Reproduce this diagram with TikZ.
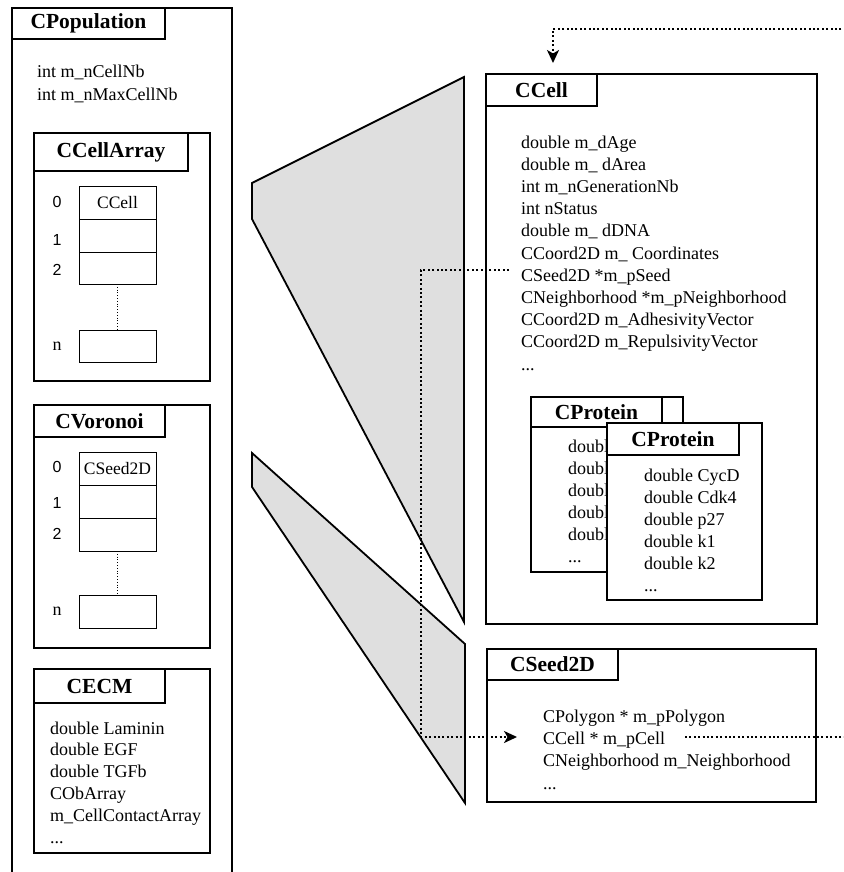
\documentclass[tikz,border=0pt]{standalone}
\usepackage{fontspec}
\setmainfont{Liberation Serif}
\newfontfamily\idxfont{Liberation Sans}
\usetikzlibrary{arrows.meta}

\begin{document}
\begin{tikzpicture}[x=1pt, y=-1pt,
  classbox/.style={draw, line width=2pt, fill=white},
  titlebox/.style={draw, line width=2pt, fill=white, anchor=north west,
    inner sep=0pt, outer sep=0pt, font=\fontsize{21.5}{24}\selectfont\bfseries},
  members/.style={anchor=base west, align=left, inner sep=0pt,
    font=\fontsize{18}{22.2}\selectfont},
  slot/.style={draw, line width=1pt, minimum width=77, minimum height=33,
    inner sep=0pt, outer sep=0pt, font=\fontsize{17.5}{20}\selectfont},
  idx/.style={inner sep=0pt, font=\idxfont\fontsize{16}{18}\selectfont},
  zoomfan/.style={fill=gray!25, draw, line width=1.8pt},
  link/.style={line width=2pt, dash pattern=on 2pt off 2.4pt},
  linkhead/.style={-{Stealth[length=13pt, width=12pt, inset=3.5pt]}}]
  \useasboundingbox (0,0) rectangle (843,872);
  \clip (0,0) rectangle (843,872);

  % zoom funnels
  \coordinate (F1a) at (252,183);
  \coordinate (F1b) at (464,77);
  \coordinate (F1c) at (464,622);
  \coordinate (F1d) at (252,219);
  \coordinate (F2a) at (252,453);
  \coordinate (F2b) at (465,644);
  \coordinate (F2c) at (465,803);
  \coordinate (F2d) at (252,487);
  \draw[zoomfan] (F1a)--(F1b)--(F1c)--(F1d)--cycle;
  \draw[zoomfan] (F2a)--(F2b)--(F2c)--(F2d)--cycle;

  % member lists: placed at the baseline of their last line
  % CPopulation
  \draw[classbox] (12,8) rectangle (232,900);
  \node[titlebox, minimum width=153, minimum height=31] (popT) at (12,8) {CPopulation};
  \node[members, font=\fontsize{18}{23}\selectfont] (popM) at (37,101)
    {int m\_nCellNb\\int m\_nMaxCellNb};

  % CCellArray
  \draw[classbox] (34,133) rectangle (210,381);
  \node[titlebox, minimum width=154, minimum height=38] (arrT) at (34,133) {CCellArray};
  \node[slot] (ca0) at (117.5,202.5) {CCell};
  \node[slot, anchor=north] (ca1) at (ca0.south) {};
  \node[slot, anchor=north, minimum height=32] (ca2) at (ca1.south) {};
  \node[slot, minimum height=32] (caN) at (117.5,346) {};
  \draw[dotted, line width=0.8pt] (ca2.south) -- (caN.north);
  \node[idx] (ia0) at (57,202) {0};
  \node[idx] (ia1) at (57,240) {1};
  \node[idx] (ia2) at (57,270) {2};
  \node[members, anchor=center] (iaN) at (57,346) {n};

  % CVoronoi
  \draw[classbox] (34,405) rectangle (210,648);
  \node[titlebox, minimum width=131, minimum height=32] (vorT) at (34,405) {CVoronoi};
  \node[slot] (cv0) at (117.5,468.5) {CSeed2D};
  \node[slot, anchor=north] (cv1) at (cv0.south) {};
  \node[slot, anchor=north] (cv2) at (cv1.south) {};
  \node[slot] (cvN) at (117.5,611.5) {};
  \draw[dotted, line width=0.8pt] (cv2.south) -- (cvN.north);
  \node[idx] (iv0) at (57,467) {0};
  \node[idx] (iv1) at (57,503) {1};
  \node[idx] (iv2) at (57,534) {2};
  \node[members, anchor=center] (ivN) at (57,611) {n};

  % CECM
  \draw[classbox] (34,669) rectangle (210,853);
  \node[titlebox, minimum width=131, minimum height=34] (ecmT) at (34,669) {CECM};
  \node[members, font=\fontsize{18}{21.8}\selectfont] (ecmM) at (50,843)
    {double Laminin\\double EGF\\double TGFb\\CObArray\\m\_CellContactArray\\...};

  % CCell
  \draw[classbox] (486,74) rectangle (817,624);
  \node[titlebox, minimum width=111, minimum height=32] (cellT) at (486,74) {CCell};
  \node[members] (cellM) at (521,370)
    {double m\_dAge\\double m\_ dArea\\int m\_nGenerationNb\\int nStatus\\
     double m\_ dDNA\\CCoord2D m\_ Coordinates\\CSeed2D *m\_pSeed\\
     CNeighborhood *m\_pNeighborhood\\CCoord2D m\_AdhesivityVector\\
     CCoord2D m\_RepulsivityVector\\...};

  % CProtein (back, front)
  \draw[classbox] (531,397) rectangle (683,572);
  \node[titlebox, minimum width=131, minimum height=30] (protT1) at (531,397) {CProtein};
  \node[members, font=\fontsize{18}{22}\selectfont] (protM1) at (568,562)
    {doubl\\doubl\\doubl\\doubl\\doubl\\...};
  \draw[classbox] (607,423) rectangle (762,600);
  \node[titlebox, minimum width=132, minimum height=32] (protT2) at (607,423) {CProtein};
  \node[members, font=\fontsize{18}{22}\selectfont] (protM2) at (644,591)
    {double CycD\\double Cdk4\\double p27\\double k1\\double k2\\...};

  % CSeed2D
  \draw[classbox] (487,649) rectangle (816,802);
  \node[titlebox, minimum width=131, minimum height=31] (seedT) at (487,649) {CSeed2D};
  \node[members] (seedM) at (543,789)
    {CPolygon * m\_pPolygon\\CCell * m\_pCell\\CNeighborhood m\_Neighborhood\\...};

  % pointers
  \coordinate (seedptr) at (509,270);
  \coordinate (seedturn) at (421,737);
  \coordinate (cellptr) at (517,737);
  \coordinate (pcellend) at (685,737);
  \coordinate (loopR) at (880,737);
  \coordinate (loopT) at (553,29);
  \coordinate (cellin) at (553,63);
  \draw[link, linkhead] (seedptr) -| (seedturn) -- (cellptr);
  \draw[link, linkhead] (pcellend) -- (loopR) |- (loopT) -- (cellin);
\end{tikzpicture}
\end{document}
